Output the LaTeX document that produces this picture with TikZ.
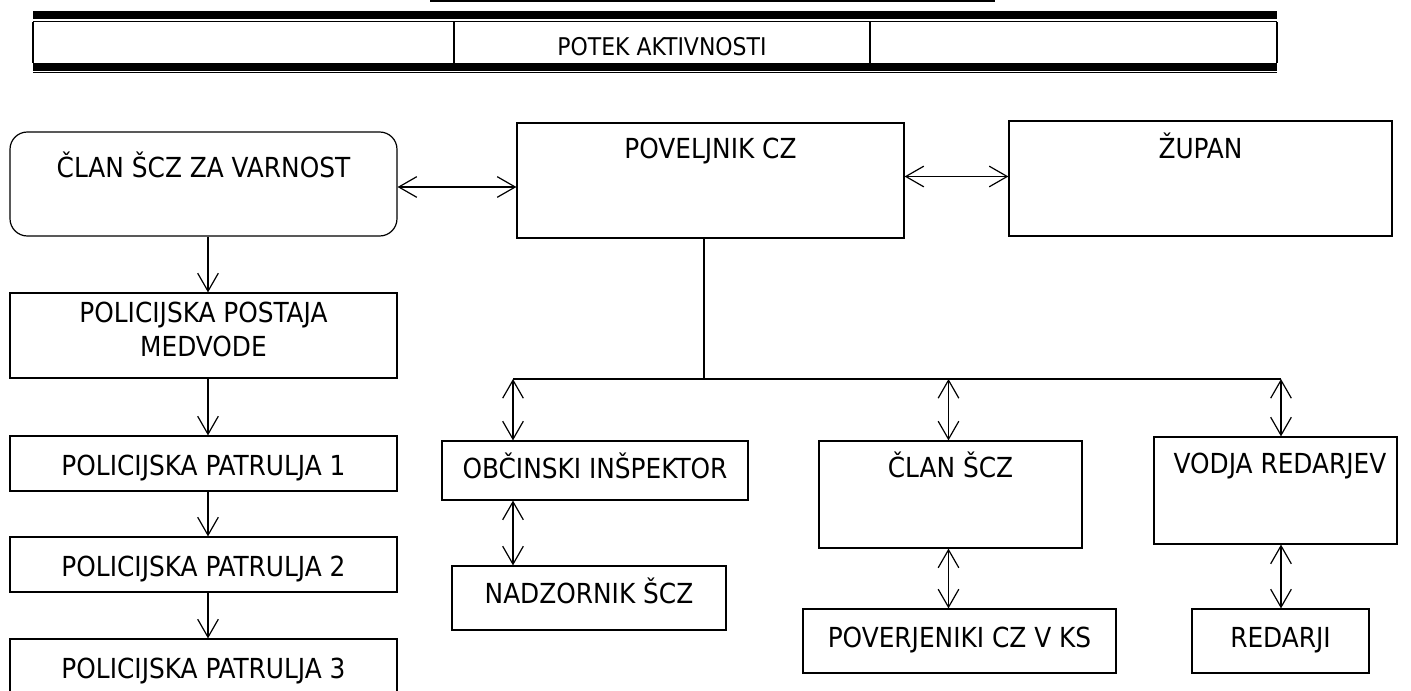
\documentclass[tikz,border=0pt]{standalone}
\usepackage{fontspec}
\setmainfont{DejaVu Sans Condensed}
\usetikzlibrary{arrows.meta,fit}
\begin{document}
\begin{tikzpicture}[x=0.75pt,y=-0.75pt,
  box/.style={draw, line width=0.9pt, inner sep=0pt},
  rbox/.style={box, rounded corners=13pt},
  lbl/.style={inner sep=0pt, text height=15.1pt, text depth=0pt, font=\fontsize{20.7}{25}\selectfont},
  hlbl/.style={inner sep=0pt, text height=13.1pt, text depth=0pt, font=\fontsize{18.3}{22}\selectfont},
  conn/.style={line width=0.9pt},
  tip/.tip={Straight Barb[length=13.5pt,width=15.5pt]},
  dbl/.style={conn, tip-tip},
  one/.style={conn, -tip},
]
\useasboundingbox (0,0) rectangle (1411,691);
\clip (0,0) rectangle (1411,691);
\fill[white] (0,0) rectangle (1411,691);

% header
\fill (430,0) rectangle (995,2.3);
\fill (33,11) rectangle (1277,19);
\draw[conn] (33,21.8) -- (1277,21.8);
\draw[conn] (33,21.8) -- (33,63) (454,21.8) -- (454,63) (870,21.8) -- (870,63) (1277,21.8) -- (1277,63);
\fill (33,63) rectangle (1277,70.7);
\draw[conn] (33,72.8) -- (1277,72.8);
\node[hlbl] (th) at (662,47) {POTEK AKTIVNOSTI};

% boxes
\node[rbox, fit={(10,132) (397,236)}] (a) {};
\node[lbl] (ta) at (203.5,167) {ČLAN ŠCZ ZA VARNOST};
\node[box, fit={(517,123) (904,238)}] (b) {};
\node[lbl] (tb) at (710.5,148) {POVELJNIK CZ};
\node[box, fit={(1009,121) (1392,236)}] (c) {};
\node[lbl] (tc) at (1200.5,148.5) {ŽUPAN};

\node[box, fit={(10,293) (397,378)}] (p) {};
\node[lbl] (tp1) at (203.5,312) {POLICIJSKA POSTAJA};
\node[lbl] (tp2) at (203.5,346) {MEDVODE};
\node[box, fit={(10,436) (397,491)}] (p1) {};
\node[lbl] (tp1x) at (203.5,465) {POLICIJSKA PATRULJA 1};
\node[box, fit={(10,537) (397,592)}] (p2) {};
\node[lbl] (tp2x) at (203.5,566) {POLICIJSKA PATRULJA 2};
\node[box, fit={(10,639) (397,700)}] (p3) {};
\node[lbl] (tp3x) at (203.5,668) {POLICIJSKA PATRULJA 3};

\node[box, fit={(442,441) (748,500)}] (oi) {};
\node[lbl] (toi) at (595,468) {OBČINSKI INŠPEKTOR};
\node[box, fit={(452,566) (726,630)}] (nz) {};
\node[lbl] (tnz) at (589,593) {NADZORNIK ŠCZ};

\node[box, fit={(819,441) (1082,548)}] (cs) {};
\node[lbl] (tcs) at (950.5,467) {ČLAN ŠCZ};
\node[box, fit={(803,609) (1116,673)}] (pv) {};
\node[lbl] (tpv) at (959.5,637) {POVERJENIKI CZ V KS};

\node[box, fit={(1154,437) (1397,544)}] (vr) {};
\node[lbl] (tvr) at (1280,463) {VODJA REDARJEV};
\node[box, fit={(1192,609) (1369,673)}] (rd) {};
\node[lbl] (trd) at (1280.5,637) {REDARJI};

% connectors
\coordinate (y1) at (0,187);
\coordinate (y2) at (0,176.5);
\draw[dbl] (a.east |- y1) -- (b.west |- y1);
\draw[dbl] (b.east |- y2) -- (c.west |- y2);

\coordinate (j) at (704,379);
\coordinate (busL) at (513,379);
\coordinate (busM) at (948.5,379);
\coordinate (busR) at (1281,379);
\draw[conn] (b.south -| j) -- (j);
\draw[conn] (busL) -- (busR);
\draw[dbl] (busL) -- (oi.north -| busL);
\draw[dbl] (busM) -- (cs.north -| busM);
\draw[dbl] (busR) -- (vr.north -| busR);
\draw[dbl] (oi.south -| busL) -- (nz.north -| busL);
\draw[dbl] (cs.south -| busM) -- (pv.north -| busM);
\draw[dbl] (vr.south -| busR) -- (rd.north -| busR);

\coordinate (lx) at (208,0);
\draw[one] (a.south -| lx) -- (p.north -| lx);
\draw[one] (p.south -| lx) -- (p1.north -| lx);
\draw[one] (p1.south -| lx) -- (p2.north -| lx);
\draw[one] (p2.south -| lx) -- (p3.north -| lx);
\end{tikzpicture}
\end{document}
